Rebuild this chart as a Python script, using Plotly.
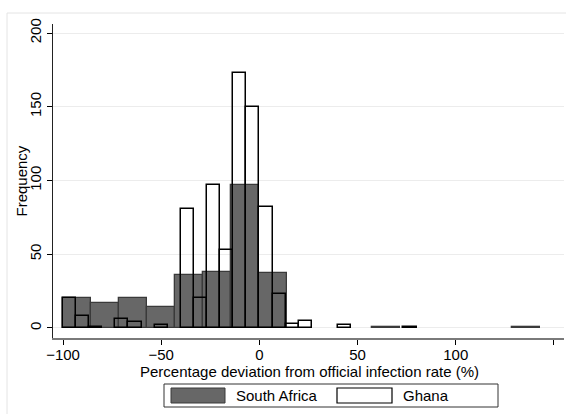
import plotly.graph_objects as go

# ---- data ----
sa_start, sa_width = -100.0, 100.0 / 7
sa_counts = [20, 17, 20, 14, 36, 38, 97, 37, 0, 0, 0, 1, 0, 0, 0, 0, 1]

gh_start, gh_width = -100.0, 100.0 / 15
gh_counts = [20, 8, 1, 0, 6, 4, 0, 2, 0, 81, 20, 97, 53, 173, 150,
             82, 23, 3, 5, 0, 0, 2, 0, 0, 0, 0, 1]

x_ticks = [-100, -50, 0, 50, 100, 150]
y_ticks = [0, 50, 100, 150, 200]

x_title = "Percentage deviation from official infection rate (%)"
y_title = "Frequency"

W, H = 566, 414
L, R, T, B = 53, 564, 24, 338   # plot area in pixels


def px(x):
    return (x - L) / (R - L)


def py(y):
    return (B - y) / (B - T)


def centers(start, width, n):
    return [start + width * (i + 0.5) for i in range(n)]


def nz(vals):
    return [v if v > 0 else None for v in vals]


FONT = "Liberation Sans, Arial, sans-serif"
FS = 15
GREY = "#676767"

fig = go.Figure()
fig.add_trace(go.Bar(
    x=centers(sa_start, sa_width, len(sa_counts)), y=nz(sa_counts),
    width=sa_width, name="South Africa",
    marker=dict(color=GREY, line=dict(color="#3a3a3a", width=1.3)),
    showlegend=False))
fig.add_trace(go.Bar(
    x=centers(gh_start, gh_width, len(gh_counts)), y=nz(gh_counts),
    width=gh_width, name="Ghana",
    marker=dict(color="rgba(0,0,0,0)", line=dict(color="#000000", width=1.5)),
    showlegend=False))

shapes = [
    # outer graph-region frame
    dict(type="rect", xref="paper", yref="paper",
         x0=px(7), x1=px(575), y0=py(425), y1=py(13),
         line=dict(color="#e4e4e4", width=1), fillcolor="rgba(0,0,0,0)",
         layer="below"),
    # legend box
    dict(type="rect", xref="paper", yref="paper",
         x0=px(164), x1=px(498), y0=py(407), y1=py(384),
         line=dict(color="#333333", width=1), fillcolor="white"),
    dict(type="rect", xref="paper", yref="paper",
         x0=px(171), x1=px(225), y0=py(403), y1=py(388),
         line=dict(color="#3a3a3a", width=1), fillcolor=GREY),
    dict(type="rect", xref="paper", yref="paper",
         x0=px(337), x1=px(392), y0=py(403), y1=py(388),
         line=dict(color="#000000", width=1.2), fillcolor="white"),
]

annotations = [
    dict(text=x_title, xref="paper", yref="paper", x=px(309), y=py(371),
         xanchor="center", yanchor="middle", showarrow=False,
         font=dict(family=FONT, size=FS, color="#000")),
    dict(text=y_title, xref="paper", yref="paper", x=px(20.5), y=py(181),
         xanchor="center", yanchor="middle", showarrow=False, textangle=-90,
         font=dict(family=FONT, size=FS, color="#000")),
    dict(text="South Africa", xref="paper", yref="paper", x=px(234), y=py(395.5),
         xanchor="left", yanchor="middle", showarrow=False,
         font=dict(family=FONT, size=FS, color="#000")),
    dict(text="Ghana", xref="paper", yref="paper", x=px(401), y=py(395.5),
         xanchor="left", yanchor="middle", showarrow=False,
         font=dict(family=FONT, size=FS, color="#000")),
]

fig.update_layout(
    width=W, height=H,
    margin=dict(l=L, r=W - R, t=T, b=H - B, pad=0),
    paper_bgcolor="white", plot_bgcolor="white",
    barmode="overlay", bargap=0,
    font=dict(family=FONT, size=FS, color="#000"),
    shapes=shapes, annotations=annotations,
    xaxis=dict(range=[-105.1, 155.1], tickvals=x_ticks, ticks="outside",
               ticklen=5, tickcolor="#000", showgrid=False, zeroline=False,
               showline=True, linecolor="#7a7a7a", linewidth=1.5,
               ticklabelstandoff=-3, tickfont=dict(size=FS)),
    yaxis=dict(range=[-6.8, 206.1], tickvals=y_ticks, ticks="outside",
               ticklen=5, tickcolor="#000", tickangle=-90,
               showgrid=True, gridcolor="#ececec", gridwidth=1,
               zeroline=False, showline=True, linecolor="#222", linewidth=1,
               tickfont=dict(size=FS)),
)

fig.write_html("out.html")
